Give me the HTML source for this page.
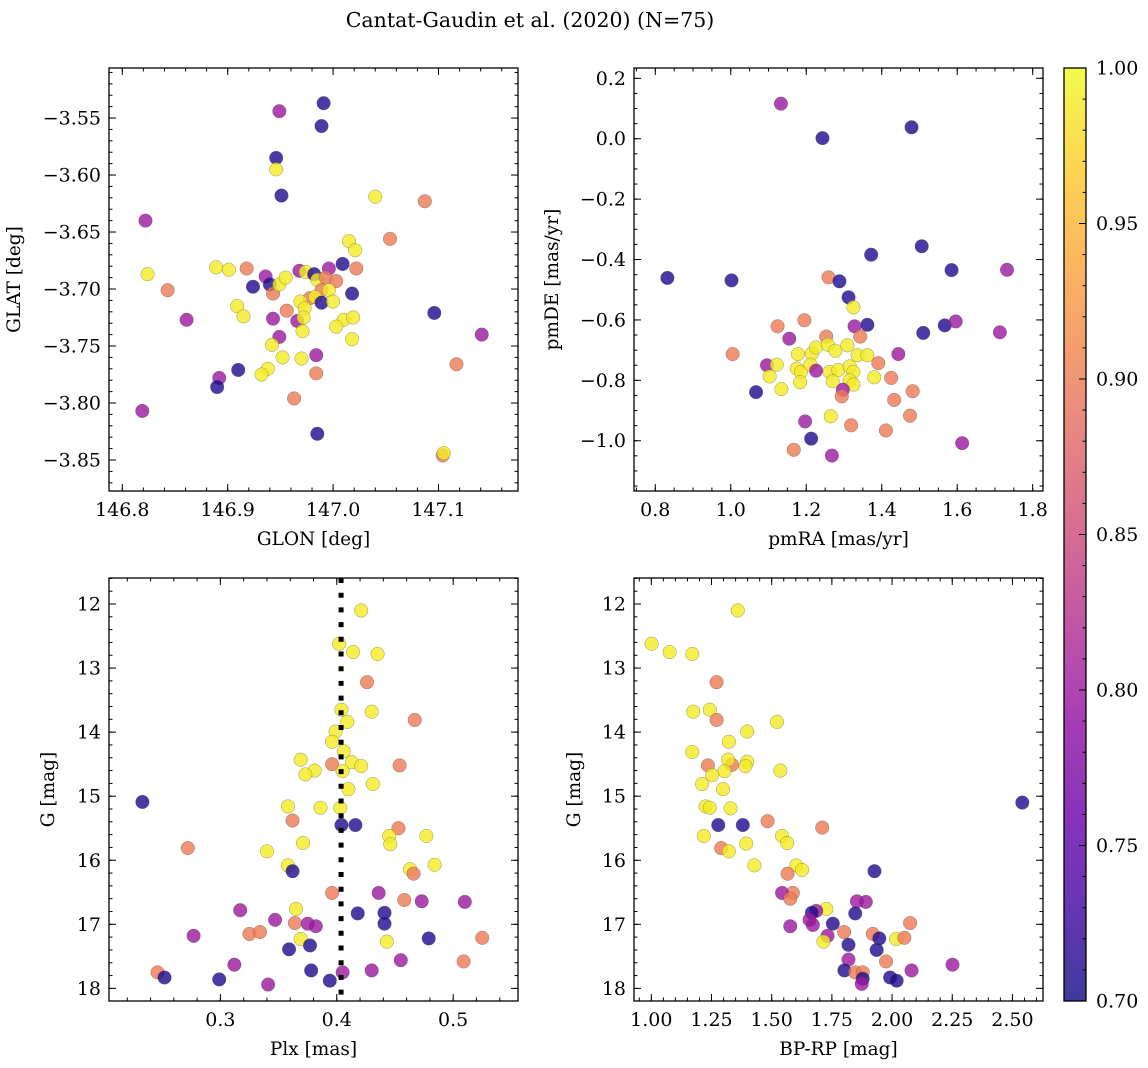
<!DOCTYPE html>
<html><head><meta charset="utf-8"><style>
html,body{margin:0;padding:0;background:#fff}
svg{display:block;font-family:"DejaVu Serif","Liberation Serif",serif}
</style></head><body>
<svg id="fig" width="1148" height="1068" viewBox="0 0 1148 1068" xmlns="http://www.w3.org/2000/svg">
<text x="530" y="27" font-size="20.5" text-anchor="middle">Cantat-Gaudin et al. (2020) (N=75)</text>
</svg>
<script>
// ---------- DATA ----------
const p1Glon=[146.991,146.989,146.949,146.946,146.946,146.951,147.040,147.087,146.822,147.054,147.015,147.021,146.824,146.889,146.901,146.918,146.843,146.936,146.924,146.940,146.943,146.949,146.955,146.968,146.974,146.982,146.996,147.009,147.022,146.985,146.993,147.003,146.989,146.996,147.018,146.978,146.983,146.969,146.989,147.000,146.973,146.909,146.915,146.956,146.861,146.943,146.966,146.972,147.010,147.019,147.003,146.971,146.949,147.018,147.096,147.141,146.942,146.952,146.970,146.984,146.938,146.932,146.910,146.984,147.117,146.892,146.890,146.963,146.819,146.985,147.104,147.105];
const p1Glat=[-3.537,-3.557,-3.544,-3.585,-3.595,-3.618,-3.619,-3.623,-3.640,-3.656,-3.658,-3.666,-3.687,-3.681,-3.683,-3.682,-3.701,-3.689,-3.698,-3.696,-3.704,-3.696,-3.690,-3.684,-3.685,-3.687,-3.682,-3.678,-3.682,-3.692,-3.690,-3.693,-3.701,-3.701,-3.704,-3.708,-3.707,-3.711,-3.712,-3.711,-3.717,-3.715,-3.724,-3.719,-3.727,-3.726,-3.728,-3.725,-3.727,-3.725,-3.733,-3.737,-3.742,-3.744,-3.721,-3.740,-3.749,-3.760,-3.761,-3.758,-3.770,-3.775,-3.771,-3.774,-3.766,-3.778,-3.786,-3.796,-3.807,-3.827,-3.846,-3.844];
const p1Prob=[0.71,0.71,0.80,0.71,0.99,0.71,0.99,0.90,0.80,0.90,0.99,0.99,0.99,0.99,0.99,0.90,0.90,0.80,0.71,0.71,0.90,0.99,0.99,0.80,0.99,0.71,0.80,0.71,0.90,0.99,0.90,0.90,0.90,0.99,0.71,0.90,0.99,0.99,0.71,0.99,0.99,0.99,0.99,0.90,0.80,0.80,0.80,0.99,0.99,0.99,0.99,0.99,0.80,0.99,0.71,0.80,0.99,0.99,0.99,0.80,0.99,0.99,0.71,0.90,0.90,0.80,0.71,0.90,0.80,0.71,0.90,0.99];

const p2PmRA=[1.133,1.243,1.479,0.832,1.002,1.259,1.288,1.372,1.506,1.585,1.732,1.312,1.325,1.195,1.124,1.155,1.328,1.362,1.343,1.253,1.567,1.596,1.510,1.713,1.005,1.444,1.096,1.122,1.103,1.178,1.215,1.226,1.257,1.277,1.309,1.336,1.362,1.391,1.175,1.186,1.211,1.226,1.262,1.285,1.315,1.325,1.184,1.270,1.315,1.325,1.380,1.425,1.067,1.134,1.297,1.294,1.482,1.433,1.475,1.265,1.197,1.319,1.411,1.213,1.167,1.268,1.613];
const p2PmDE=[0.116,0.002,0.038,-0.461,-0.469,-0.459,-0.472,-0.384,-0.356,-0.435,-0.434,-0.525,-0.558,-0.601,-0.621,-0.662,-0.621,-0.616,-0.655,-0.655,-0.618,-0.605,-0.643,-0.641,-0.713,-0.713,-0.750,-0.748,-0.787,-0.713,-0.711,-0.691,-0.682,-0.702,-0.684,-0.717,-0.717,-0.743,-0.761,-0.772,-0.748,-0.768,-0.772,-0.766,-0.754,-0.772,-0.806,-0.803,-0.800,-0.814,-0.790,-0.792,-0.839,-0.829,-0.831,-0.853,-0.836,-0.865,-0.917,-0.919,-0.936,-0.949,-0.966,-0.993,-1.030,-1.049,-1.008];
const p2Prob=[0.80,0.71,0.71,0.71,0.71,0.90,0.71,0.71,0.71,0.71,0.80,0.71,0.99,0.90,0.90,0.80,0.80,0.71,0.90,0.90,0.71,0.80,0.71,0.80,0.90,0.80,0.80,0.99,0.99,0.99,0.99,0.99,0.99,0.99,0.99,0.99,0.99,0.90,0.99,0.99,0.99,0.80,0.99,0.99,0.99,0.99,0.99,0.99,0.99,0.99,0.99,0.90,0.71,0.99,0.80,0.90,0.90,0.90,0.90,0.99,0.80,0.90,0.90,0.71,0.90,0.80,0.80];

const p3Plx=[0.421,0.402,0.414,0.435,0.426,0.404,0.430,0.467,0.409,0.399,0.396,0.406,0.369,0.396,0.413,0.421,0.454,0.381,0.373,0.405,0.431,0.410,0.233,0.358,0.386,0.403,0.362,0.404,0.416,0.453,0.445,0.477,0.446,0.371,0.272,0.340,0.358,0.362,0.484,0.463,0.466,0.396,0.436,0.458,0.473,0.510,0.317,0.365,0.418,0.441,0.347,0.364,0.375,0.382,0.441,0.277,0.325,0.334,0.369,0.443,0.479,0.525,0.359,0.377,0.455,0.509,0.312,0.246,0.252,0.378,0.405,0.430,0.299,0.341,0.394];
const p3G=[12.10,12.62,12.75,12.78,13.22,13.65,13.68,13.81,13.84,13.99,14.15,14.30,14.43,14.50,14.47,14.53,14.52,14.60,14.66,14.61,14.81,14.89,15.09,15.16,15.18,15.18,15.38,15.45,15.45,15.50,15.62,15.62,15.75,15.73,15.81,15.86,16.08,16.17,16.07,16.14,16.21,16.51,16.51,16.62,16.64,16.65,16.78,16.76,16.83,16.82,16.93,16.98,16.99,17.03,16.99,17.18,17.15,17.12,17.23,17.27,17.22,17.21,17.39,17.33,17.56,17.58,17.63,17.75,17.83,17.72,17.75,17.72,17.86,17.94,17.88];
const p3Prob=[0.99,0.99,0.99,0.99,0.90,0.99,0.99,0.90,0.99,0.99,0.99,0.99,0.99,0.90,0.99,0.99,0.90,0.99,0.99,0.99,0.99,0.99,0.71,0.99,0.99,0.99,0.90,0.71,0.71,0.90,0.99,0.99,0.99,0.99,0.90,0.99,0.99,0.71,0.99,0.99,0.90,0.90,0.80,0.90,0.80,0.80,0.80,0.99,0.71,0.71,0.80,0.90,0.80,0.80,0.71,0.80,0.90,0.90,0.99,0.99,0.71,0.90,0.71,0.71,0.80,0.90,0.80,0.90,0.71,0.71,0.80,0.80,0.71,0.80,0.71];

const p4BpRp=[1.359,1.001,1.076,1.170,1.271,1.174,1.243,1.271,1.522,1.398,1.322,1.170,1.235,1.335,1.319,1.398,1.391,1.536,1.304,1.253,1.211,1.298,2.541,1.225,1.243,1.329,1.483,1.278,1.380,1.710,1.543,1.218,1.564,1.394,1.290,1.322,1.428,1.602,1.626,1.927,1.566,1.588,1.543,1.577,1.854,1.891,1.727,1.685,1.667,1.847,2.075,1.657,1.671,1.754,1.577,1.801,1.920,1.732,1.715,1.947,2.017,2.051,1.819,1.936,1.819,1.975,2.251,1.802,1.847,2.081,1.878,1.878,1.874,1.992,2.019];
const p4G=[12.10,12.62,12.75,12.78,13.22,13.68,13.65,13.81,13.84,13.99,14.15,14.31,14.52,14.51,14.43,14.46,14.53,14.60,14.61,14.67,14.81,14.89,15.10,15.16,15.18,15.19,15.39,15.45,15.45,15.49,15.62,15.62,15.73,15.74,15.81,15.86,16.08,16.08,16.15,16.17,16.21,16.51,16.51,16.60,16.64,16.65,16.76,16.79,16.82,16.83,16.98,16.93,17.01,16.99,17.03,17.12,17.15,17.18,17.27,17.22,17.23,17.21,17.32,17.40,17.55,17.58,17.63,17.72,17.75,17.72,17.75,17.85,17.93,17.83,17.88];
const p4Prob=[0.99,0.99,0.99,0.99,0.90,0.99,0.99,0.90,0.99,0.99,0.99,0.99,0.90,0.90,0.99,0.99,0.99,0.99,0.99,0.99,0.99,0.99,0.71,0.99,0.99,0.99,0.90,0.71,0.71,0.90,0.99,0.99,0.99,0.99,0.90,0.99,0.99,0.99,0.99,0.71,0.90,0.90,0.80,0.90,0.80,0.80,0.99,0.80,0.71,0.71,0.90,0.80,0.80,0.71,0.80,0.90,0.90,0.80,0.99,0.71,0.99,0.90,0.71,0.71,0.80,0.90,0.80,0.71,0.90,0.80,0.90,0.71,0.80,0.71,0.71];

const plxThreshold=0.4037;

const p1XTicks=[146.8,146.9,147.0,147.1];
const p1YTicks=[-3.55,-3.60,-3.65,-3.70,-3.75,-3.80,-3.85];
const p2XTicks=[0.8,1.0,1.2,1.4,1.6,1.8];
const p2YTicks=[0.2,0.0,-0.2,-0.4,-0.6,-0.8,-1.0];
const p3XTicks=[0.3,0.4,0.5];
const gTicks=[12,13,14,15,16,17,18];
const p4XTicks=[1.00,1.25,1.50,1.75,2.00,2.25,2.50];
const cbTicks=[0.70,0.75,0.80,0.85,0.90,0.95,1.00];

// ---------- HELPERS ----------
const NS="http://www.w3.org/2000/svg";
const svg=document.getElementById('fig');
const TF=19, LF=18.5;
function mk(tag,attrs,parent){const e=document.createElementNS(NS,tag);for(const k in attrs)e.setAttribute(k,attrs[k]);(parent||svg).appendChild(e);return e;}
const stops=[[13,8,135],[65,4,157],[106,0,168],[143,13,164],[177,42,144],[204,71,120],[225,100,98],[242,132,75],[252,166,54],[252,206,37],[240,249,33]];
function plasma(t){t=Math.max(0,Math.min(1,t));const f=t*10,i=Math.min(9,Math.floor(f)),u=f-i;const a=stops[i],b=stops[i+1];return 'rgb('+[0,1,2].map(k=>Math.round(a[k]+(b[k]-a[k])*u)).join(',')+')';}
function pc(p){return plasma((p-0.7)/0.3);}
function fmt(v,d){return (v<0?'\u2212':'')+Math.abs(v).toFixed(d);}

function makeAxes(o){
  const g=mk('g',{});
  
  
  const sx=v=>o.L+(v-o.x0)/(o.x1-o.x0)*(o.R-o.L);
  const sy=v=>o.T+(v-o.y0)/(o.y1-o.y0)*(o.B-o.T);
  o.sx=sx;o.sy=sy;o.g=g;
  return o;
}
function drawFrame(o){
  const g=o.g;
  const ticks=mk('g',{stroke:'#000','stroke-width':1},g);
  
  
  const xmin=Math.min(o.x0,o.x1),xmax=Math.max(o.x0,o.x1),ymin=Math.min(o.y0,o.y1),ymax=Math.max(o.y0,o.y1);
  for(let k=Math.ceil(xmin/o.xm-1e-6);k*o.xm<=xmax+1e-9;k++){const x=o.sx(k*o.xm);mk('line',{x1:x,x2:x,y1:o.B,y2:o.B-3.5},ticks);mk('line',{x1:x,x2:x,y1:o.T,y2:o.T+3.5},ticks);}
  for(let k=Math.ceil(ymin/o.ym-1e-6);k*o.ym<=ymax+1e-9;k++){const y=o.sy(k*o.ym);mk('line',{x1:o.L,x2:o.L+3.5,y1:y,y2:y},ticks);mk('line',{x1:o.R,x2:o.R-3.5,y1:y,y2:y},ticks);}
  o.xt.forEach(v=>{const x=o.sx(v);mk('line',{x1:x,x2:x,y1:o.B,y2:o.B-7},ticks);mk('line',{x1:x,x2:x,y1:o.T,y2:o.T+7},ticks);
    const t=mk('text',{x:x,y:o.B+25,'font-size':TF,'text-anchor':'middle'},g);t.textContent=fmt(v,o.xd);
    
    });
  o.yt.forEach(v=>{const y=o.sy(v);mk('line',{x1:o.L,x2:o.L+7,y1:y,y2:y},ticks);mk('line',{x1:o.R,x2:o.R-7,y1:y,y2:y},ticks);
    const t=mk('text',{x:o.L-8,y:y+6.5,'font-size':TF,'text-anchor':'end'},g);t.textContent=fmt(v,o.yd);
    
    });
  const fr=mk('rect',{x:o.L,y:o.T,width:o.R-o.L,height:o.B-o.T,fill:'none',stroke:'#000','stroke-width':1.3},g);
  
  
  const xl=mk('text',{x:(o.L+o.R)/2,y:o.B+54,'font-size':LF,'text-anchor':'middle'},g);xl.textContent=o.xlabel;
  
  
  const cy=(o.T+o.B)/2;
  const yl=mk('text',{x:o.ylx,y:cy,'font-size':LF,'text-anchor':'middle',transform:'rotate(-90 '+o.ylx+' '+cy+')'},g);yl.textContent=o.ylabel;
  
  
}
function scatter(o,xs,ys,ps){
  const g=mk('g',{},o.g);
  
  
  for(let i=0;i<xs.length;i++){
    const c=mk('circle',{cx:o.sx(xs[i]),cy:o.sy(ys[i]),r:6.8,fill:pc(ps[i]),'fill-opacity':0.8,stroke:'#555','stroke-opacity':0.6,'stroke-width':0.5},g);
    
    
  }
}

// ---------- PANELS ----------
const a1=makeAxes({name:'sky-panel',L:109,R:518,T:68,B:491,x0:146.7874,x1:147.1754,y0:-3.5061,y1:-3.8772,xt:p1XTicks,yt:p1YTicks,xm:0.02,ym:0.01,xd:1,yd:2,xlabel:'GLON [deg]',ylabel:'GLAT [deg]',ylx:20});
scatter(a1,p1Glon,p1Glat,p1Prob);drawFrame(a1);

const a2=makeAxes({name:'proper-motion-panel',L:634,R:1043,T:68,B:491,x0:0.7436,x1:1.8273,y0:0.2342,y1:-1.1664,xt:p2XTicks,yt:p2YTicks,xm:0.05,ym:0.05,xd:1,yd:1,xlabel:'pmRA [mas/yr]',ylabel:'pmDE [mas/yr]',ylx:558});
scatter(a2,p2PmRA,p2PmDE,p2Prob);drawFrame(a2);

const a3=makeAxes({name:'parallax-panel',L:109,R:518,T:578,B:1001,x0:0.2043,x1:0.5557,y0:11.594,y1:18.197,xt:p3XTicks,yt:gTicks,xm:0.02,ym:0.2,xd:1,yd:0,xlabel:'Plx [mas]',ylabel:'G [mag]',ylx:54});
scatter(a3,p3Plx,p3G,p3Prob);
const dl=mk('line',{x1:a3.sx(plxThreshold),x2:a3.sx(plxThreshold),y1:a3.T,y2:a3.B,stroke:'#000','stroke-width':5,'stroke-dasharray':'5 9.7'},a3.g);


drawFrame(a3);

const a4=makeAxes({name:'cmd-panel',L:634,R:1043,T:578,B:1001,x0:0.928,x1:2.627,y0:11.594,y1:18.197,xt:p4XTicks,yt:gTicks,xm:0.05,ym:0.2,xd:2,yd:0,xlabel:'BP-RP [mag]',ylabel:'G [mag]',ylx:580});
scatter(a4,p4BpRp,p4G,p4Prob);drawFrame(a4);

// ---------- COLORBAR ----------
const cb=mk('g',{});


const defs=mk('defs',{},cb);
const lg=mk('linearGradient',{id:'cbg',x1:0,y1:1,x2:0,y2:0},defs);
for(let i=0;i<=10;i++){mk('stop',{offset:i/10,'stop-color':plasma(i/10)},lg);}
const CL=1064,CR=1086,CT=68,CB=1001;
mk('rect',{x:CL,y:CT,width:CR-CL,height:CB-CT,fill:'url(#cbg)','fill-opacity':0.8},cb);
const cy=v=>CB-(v-0.7)/0.3*(CB-CT);
for(let k=70;k<=100;k++){const y=cy(k/100);mk('line',{x1:CR,x2:CR-3.5,y1:y,y2:y,stroke:'#000','stroke-width':1},cb);}
cbTicks.forEach(v=>{const y=cy(v);mk('line',{x1:CR,x2:CR-7,y1:y,y2:y,stroke:'#000','stroke-width':1},cb);
  const t=mk('text',{x:CR+10,y:y+6.5,'font-size':TF},cb);t.textContent=v.toFixed(2);
  
  });
mk('rect',{x:CL,y:CT,width:CR-CL,height:CB-CT,fill:'none',stroke:'#000','stroke-width':1.3},cb);
</script>
</body></html>
